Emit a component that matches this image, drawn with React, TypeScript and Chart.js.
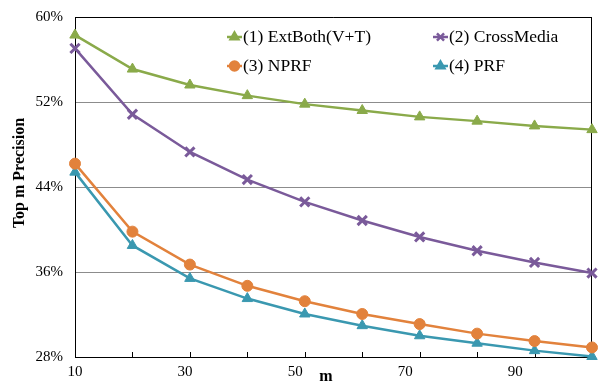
import React, { useEffect, useRef } from 'react';
import { Chart, registerables } from 'chart.js';
import { drawPoint } from 'chart.js/helpers';

Chart.register(...registerables);

const mValues = [10, 20, 30, 40, 50, 60, 70, 80, 90, 100];
const xLabelValues = [10, 30, 50, 70, 90];
const yTicks = [28, 36, 44, 52, 60];

const extBoth = [58.3, 55.1, 53.6, 52.6, 51.8, 51.2, 50.6, 50.2, 49.75, 49.4];
const crossMedia = [57.05, 50.85, 47.3, 44.7, 42.6, 40.85, 39.3, 38.0, 36.9, 35.9];
const nprf = [46.2, 39.8, 36.7, 34.7, 33.25, 32.05, 31.1, 30.2, 29.5, 28.9];
const prf = [45.4, 38.5, 35.4, 33.5, 32.05, 30.95, 30.0, 29.3, 28.6, 28.05];

const seriesNames = ['(1) ExtBoth(V+T)', '(2) CrossMedia', '(3) NPRF', '(4) PRF'];
const seriesColors = ['#8AAA4A', '#7A5A9A', '#E2823C', '#3A98B0'];
const seriesStyles = ['triangle', 'crossRot', 'circle', 'triangle'];
const seriesValues = [extBoth, crossMedia, nprf, prf];

const FONT = "'Liberation Serif', 'Times New Roman', serif";
// x tick labels in the reference are spaced slightly tighter than the tick marks
const LABEL_SPREAD = 0.958;

const framePlugin = {
  id: 'frame',
  beforeDatasetsDraw(chart: any) {
    const { ctx, chartArea } = chart;
    const xs = chart.scales.x;
    ctx.save();
    ctx.strokeStyle = '#000';
    ctx.lineWidth = 1;
    ctx.beginPath();
    ctx.moveTo(chartArea.left, Math.round(chartArea.top) + 0.5);
    ctx.lineTo(chartArea.right, Math.round(chartArea.top) + 0.5);
    ctx.moveTo(Math.round(chartArea.right) - 0.5, chartArea.top);
    ctx.lineTo(Math.round(chartArea.right) - 0.5, chartArea.bottom);
    for (const v of mValues) {
      const px = Math.round(xs.getPixelForValue(v)) + 0.5;
      ctx.moveTo(px, chartArea.bottom);
      ctx.lineTo(px, chartArea.bottom - 5);
    }
    ctx.stroke();
    ctx.restore();
  },
  afterDraw(chart: any) {
    const { ctx, chartArea } = chart;
    const xs = chart.scales.x;
    ctx.save();
    ctx.fillStyle = '#000';
    // x tick labels
    ctx.font = `15px ${FONT}`;
    ctx.textAlign = 'center';
    ctx.textBaseline = 'middle';
    for (const v of xLabelValues) {
      const px = xs.getPixelForValue(10 + (v - 10) * LABEL_SPREAD);
      ctx.fillText(String(v), px, chartArea.bottom + 15);
    }
    // axis titles
    ctx.font = `bold 16px ${FONT}`;
    ctx.save();
    ctx.translate(20, 173);
    ctx.rotate(-Math.PI / 2);
    ctx.fillText('Top m Precision', 0, 0);
    ctx.restore();
    ctx.fillText('m', 326, 377);

    // legend
    const cols = [227, 433];
    const rows = [37, 66];
    ctx.font = `17.5px ${FONT}`;
    ctx.textAlign = 'left';
    for (let i = 0; i < seriesNames.length; i++) {
      const x = cols[i % 2];
      const y = rows[Math.floor(i / 2)];
      ctx.strokeStyle = seriesColors[i];
      ctx.lineWidth = 2.5;
      ctx.beginPath();
      ctx.moveTo(x, y);
      ctx.lineTo(x + 15, y);
      ctx.stroke();
      ctx.fillStyle = seriesColors[i];
      drawPoint(ctx, {
        pointStyle: seriesStyles[i],
        radius: seriesStyles[i] === 'crossRot' ? 5 : 4.5,
        rotation: 0,
        borderWidth: seriesStyles[i] === 'crossRot' ? 2.5 : 1,
      } as any, x + 7.5, y);
      ctx.fillStyle = '#000';
      ctx.fillText(seriesNames[i], x + 16, y);
    }
    ctx.restore();
  },
};

export default function App() {
  const canvasRef = useRef<HTMLCanvasElement>(null);

  useEffect(() => {
    document.body.style.margin = '0';
    const canvas = canvasRef.current;
    if (!canvas) return;
    const datasets = seriesValues.map((vals, i) => ({
      label: seriesNames[i],
      data: mValues.map((m, j) => ({ x: m, y: vals[j] })),
      borderColor: seriesColors[i],
      backgroundColor: seriesColors[i],
      pointBackgroundColor: seriesColors[i],
      pointBorderColor: seriesColors[i],
      pointStyle: seriesStyles[i],
      pointRadius: seriesStyles[i] === 'crossRot' ? 6.5 : seriesStyles[i] === 'circle' ? 5.5 : 6,
      pointBorderWidth: seriesStyles[i] === 'crossRot' ? 3 : 1,
      borderWidth: 2.5,
      tension: 0,
      clip: false as any,
    }));
    const chart = new Chart(canvas, {
      type: 'line',
      data: { datasets },
      plugins: [framePlugin],
      options: {
        animation: false,
        responsive: false,
        devicePixelRatio: 1,
        layout: { padding: { left: 0, top: 17, right: 10, bottom: 0 } },
        plugins: {
          legend: { display: false },
          tooltip: { enabled: false },
        },
        scales: {
          x: {
            type: 'linear',
            min: 10,
            max: 100,
            afterBuildTicks: (s: any) => {
              s.ticks = mValues.map((v) => ({ value: v }));
            },
            afterFit: (s: any) => {
              s.height = 24;
              s.paddingLeft = 0;
              s.paddingRight = 0;
            },
            grid: { display: false, drawTicks: false },
            border: { display: true, color: '#000', width: 1 },
            ticks: {
              autoSkip: false,
              maxRotation: 0,
              padding: 8,
              color: '#000',
              font: { family: FONT, size: 15 },
              callback: () => '',
            },
          },
          y: {
            min: 28,
            max: 60,
            afterBuildTicks: (s: any) => {
              s.ticks = yTicks.map((v) => ({ value: v }));
            },
            afterFit: (s: any) => {
              s.width = 75;
              s.paddingTop = 0;
              s.paddingBottom = 0;
            },
            grid: { color: '#8c8c8c', lineWidth: 1, drawTicks: false },
            border: { display: true, color: '#000', width: 1 },
            ticks: {
              padding: 12,
              color: '#000',
              font: { family: FONT, size: 15 },
              callback: (v: any) => `${v}%`,
            },
          },
        },
      },
    });
    return () => chart.destroy();
  }, []);

  return (
    <div style={{ width: 602, height: 381 }}>
      <canvas ref={canvasRef} width={602} height={381} style={{ display: 'block' }} />
    </div>
  );
}
